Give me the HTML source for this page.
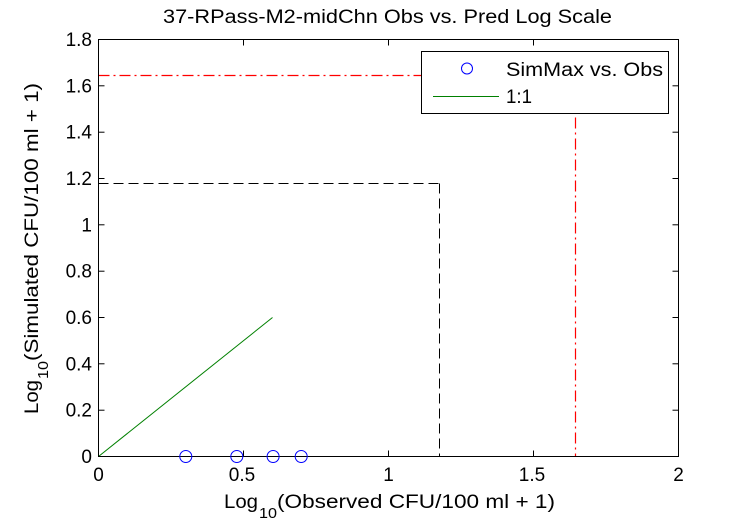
<!DOCTYPE html>
<html>
<head>
<meta charset="utf-8">
<style>
html,body{margin:0;padding:0;background:#fff;}
svg{display:block;}
text{font-family:"Liberation Sans",Arial,sans-serif;fill:#000;}
.red{stroke:#ff0000;}
</style>
</head>
<body>
<svg width="750" height="525" viewBox="0 0 750 525" xmlns="http://www.w3.org/2000/svg">
<rect x="0" y="0" width="750" height="525" fill="#fff"/>

<!-- title -->
<text x="163" y="23" font-size="19" textLength="449" lengthAdjust="spacingAndGlyphs">37-RPass-M2-midChn Obs vs. Pred Log Scale</text>

<!-- red dash-dot -->
<g class="red" style="stroke:#ff0000" stroke-width="1.2" fill="none" stroke-dasharray="11 4 2 4">
<line x1="98.5" y1="75.5" x2="575.5" y2="75.5" style="stroke:#ff0000"/>
<line x1="575.5" y1="75.5" x2="575.5" y2="456.5" style="stroke:#ff0000"/>
</g>
<!-- black dashed -->
<g stroke="#000" stroke-width="1" fill="none" stroke-dasharray="10 5">
<line x1="98.5" y1="183.5" x2="439.5" y2="183.5"/>
<line x1="439.5" y1="183.5" x2="439.5" y2="456.5"/>
</g>
<!-- 1:1 line -->
<line x1="98.5" y1="456.5" x2="272.5" y2="317.5" stroke="#008000" stroke-width="1"/>

<!-- axes box -->
<rect x="98.5" y="39.5" width="580" height="417" fill="none" stroke="#000" stroke-width="1"/>

<!-- ticks -->
<g stroke="#000" stroke-width="1">
<line x1="243.5" y1="456.5" x2="243.5" y2="450.5"/>
<line x1="388.5" y1="456.5" x2="388.5" y2="450.5"/>
<line x1="533.5" y1="456.5" x2="533.5" y2="450.5"/>
<line x1="243.5" y1="39.5" x2="243.5" y2="45.5"/>
<line x1="388.5" y1="39.5" x2="388.5" y2="45.5"/>
<line x1="533.5" y1="39.5" x2="533.5" y2="45.5"/>

<line x1="98.5" y1="410.2" x2="104.5" y2="410.2"/>
<line x1="98.5" y1="363.8" x2="104.5" y2="363.8"/>
<line x1="98.5" y1="317.5" x2="104.5" y2="317.5"/>
<line x1="98.5" y1="271.2" x2="104.5" y2="271.2"/>
<line x1="98.5" y1="224.8" x2="104.5" y2="224.8"/>
<line x1="98.5" y1="178.5" x2="104.5" y2="178.5"/>
<line x1="98.5" y1="132.2" x2="104.5" y2="132.2"/>
<line x1="98.5" y1="85.8" x2="104.5" y2="85.8"/>

<line x1="678.5" y1="410.2" x2="672.5" y2="410.2"/>
<line x1="678.5" y1="363.8" x2="672.5" y2="363.8"/>
<line x1="678.5" y1="317.5" x2="672.5" y2="317.5"/>
<line x1="678.5" y1="271.2" x2="672.5" y2="271.2"/>
<line x1="678.5" y1="224.8" x2="672.5" y2="224.8"/>
<line x1="678.5" y1="178.5" x2="672.5" y2="178.5"/>
<line x1="678.5" y1="132.2" x2="672.5" y2="132.2"/>
<line x1="678.5" y1="85.8" x2="672.5" y2="85.8"/>
</g>

<!-- circles -->
<g stroke="#0000ff" stroke-width="1" fill="none">
<circle cx="185.8" cy="456.5" r="6"/>
<circle cx="236.8" cy="456.5" r="6"/>
<circle cx="273.1" cy="456.5" r="6"/>
<circle cx="301.2" cy="456.5" r="6"/>
</g>

<!-- y tick labels -->
<g font-size="19" text-anchor="end">
<text x="92" y="463">0</text>
<text x="92" y="416.7">0.2</text>
<text x="92" y="370.3">0.4</text>
<text x="92" y="324">0.6</text>
<text x="92" y="277.7">0.8</text>
<text x="92" y="231.3">1</text>
<text x="92" y="185">1.2</text>
<text x="92" y="138.7">1.4</text>
<text x="92" y="92.3">1.6</text>
<text x="92" y="46">1.8</text>
</g>

<!-- x tick labels -->
<g font-size="19" text-anchor="middle">
<text x="98.5" y="481">0</text>
<text x="242" y="481">0.5</text>
<text x="388.5" y="481">1</text>
<text x="532" y="481">1.5</text>
<text x="678.5" y="481">2</text>
</g>

<!-- x label -->
<text x="224" y="508" font-size="19" textLength="34" lengthAdjust="spacingAndGlyphs">Log</text>
<text x="259" y="518" font-size="15" textLength="18" lengthAdjust="spacingAndGlyphs">10</text>
<text x="277" y="508" font-size="19" textLength="278" lengthAdjust="spacingAndGlyphs">(Observed CFU/100 ml + 1)</text>

<!-- y label -->
<g transform="translate(38,414) rotate(-90)">
<text x="0" y="0" font-size="19" textLength="34" lengthAdjust="spacingAndGlyphs">Log</text>
<text x="35" y="10" font-size="15" textLength="18" lengthAdjust="spacingAndGlyphs">10</text>
<text x="53" y="0" font-size="19" textLength="278" lengthAdjust="spacingAndGlyphs">(Simulated CFU/100 ml + 1)</text>
</g>

<!-- legend -->
<rect x="421.5" y="51.5" width="247" height="62" fill="#fff" stroke="#000" stroke-width="1"/>
<circle cx="467" cy="68.5" r="5.5" fill="none" stroke="#0000ff" stroke-width="1"/>
<text x="506" y="76" font-size="19" textLength="157" lengthAdjust="spacingAndGlyphs">SimMax vs. Obs</text>
<line x1="433" y1="96.5" x2="499" y2="96.5" stroke="#008000" stroke-width="1"/>
<text x="506" y="103" font-size="19" textLength="26" lengthAdjust="spacingAndGlyphs">1:1</text>
</svg>
</body>
</html>
